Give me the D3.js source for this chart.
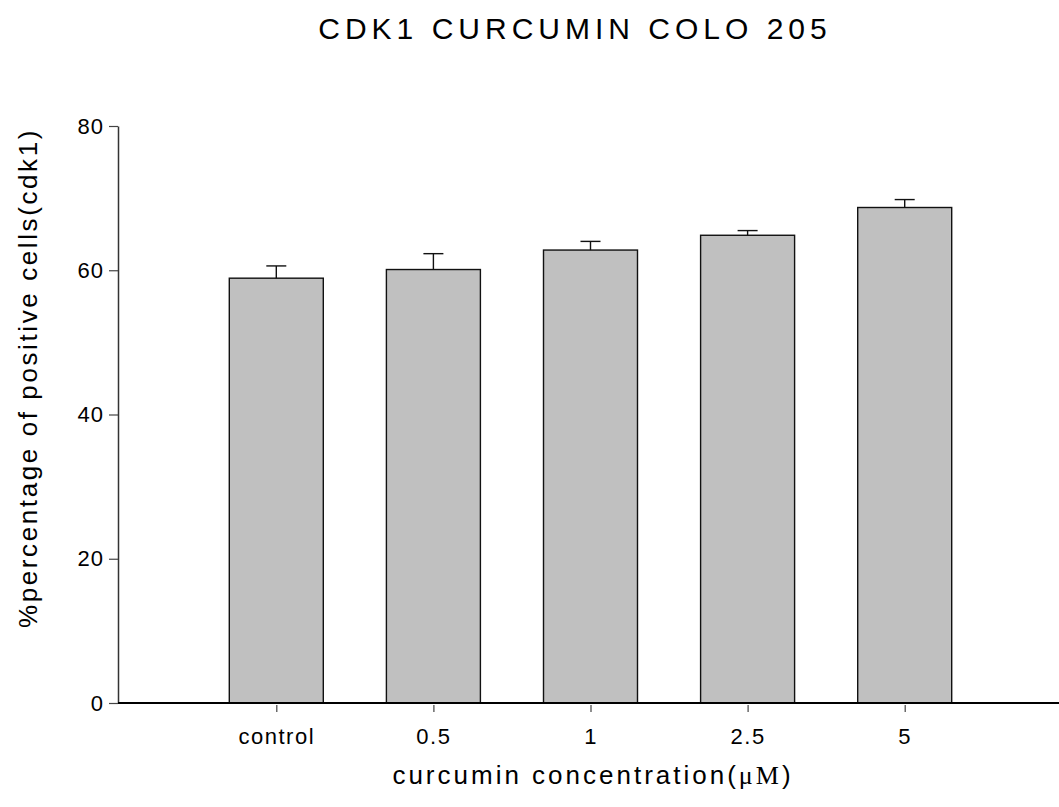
<!DOCTYPE html>
<html>
<head>
<meta charset="utf-8">
<script src="https://cdn.jsdelivr.net/npm/d3@7"></script>
<style>
  html, body { margin: 0; padding: 0; background: #fff; }
  svg { display: block; font-family: "Liberation Sans", Arial, sans-serif; }
</style>
</head>
<body>
<svg id="chart" width="1059" height="807"></svg>
<script>
// CDK1-positive cells (%) in COLO 205 after curcumin treatment
const categories = ["control", "0.5", "1", "2.5", "5"];
const means = [58.9, 60.1, 62.8, 64.85, 68.7];
const errors = [1.7, 2.2, 1.2, 0.65, 1.1];
const yTicks = [0, 20, 40, 60, 80];

const svg = d3.select("#chart");

const x = d3.scalePoint().domain(categories).range([119.2, 1061.8]).padding(1);
const y = d3.scaleLinear().domain([0, 80]).range([703, 126]);
const barWidth = 94;
const capWidth = 20;

// title
svg.append("text")
  .attr("x", 575).attr("y", 39)
  .attr("text-anchor", "middle")
  .attr("font-size", 30).attr("letter-spacing", 5)
  .text("CDK1 CURCUMIN COLO 205");

// bars
svg.append("g").selectAll("rect")
  .data(categories)
  .join("rect")
  .attr("x", d => x(d) - barWidth / 2)
  .attr("width", barWidth)
  .attr("y", (d, i) => y(means[i]))
  .attr("height", (d, i) => y(0) - y(means[i]))
  .attr("fill", "#c0c0c0")
  .attr("stroke", "#111")
  .attr("stroke-width", 1.4);

// upper error bars
const eb = svg.append("g").attr("stroke", "#111").attr("stroke-width", 1.4);
categories.forEach((c, i) => {
  const cx = x(c);
  eb.append("line").attr("x1", cx).attr("x2", cx)
    .attr("y1", y(means[i])).attr("y2", y(means[i] + errors[i]));
  eb.append("line").attr("x1", cx - capWidth / 2).attr("x2", cx + capWidth / 2)
    .attr("y1", y(means[i] + errors[i])).attr("y2", y(means[i] + errors[i]));
});

// y axis
const yAxis = d3.axisLeft(y).tickValues(yTicks).tickSize(9).tickPadding(5).tickSizeOuter(0);
const gy = svg.append("g").attr("transform", "translate(118,0)").call(yAxis);
gy.select(".domain").attr("stroke", "#333").attr("stroke-width", 1.5);
gy.selectAll(".tick line").attr("stroke", "#444").attr("stroke-width", 1.2);
gy.selectAll(".tick text")
  .attr("font-size", 22).attr("letter-spacing", 1)
  .attr("font-family", "Liberation Sans, Arial, sans-serif")
  .attr("fill", "#000");

// x axis
const xAxis = d3.axisBottom(x).tickSize(0).tickPadding(0);
const gx = svg.append("g").attr("transform", "translate(0,703)").call(xAxis);
gx.select(".domain").attr("d", "M118,0H1059").attr("stroke", "#000").attr("stroke-width", 2);
gx.selectAll(".tick").append("line")
  .attr("y1", 2).attr("y2", 9).attr("stroke", "#444").attr("stroke-width", 1.2);
gx.selectAll(".tick text")
  .attr("y", 41).attr("dy", null)
  .attr("font-size", 22).attr("letter-spacing", 1.5)
  .attr("font-family", "Liberation Sans, Arial, sans-serif")
  .attr("fill", "#000");

// x axis title
const xt = svg.append("text")
  .attr("x", 593).attr("y", 784)
  .attr("text-anchor", "middle")
  .attr("font-size", 26).attr("letter-spacing", 3);
xt.append("tspan").text("curcumin concentration(");
xt.append("tspan").attr("font-family", "Liberation Serif, Times New Roman, serif").text("μM");
xt.append("tspan").text(")");

// y axis title
svg.append("text")
  .attr("transform", "translate(37,378) rotate(-90)")
  .attr("text-anchor", "middle")
  .attr("font-size", 26).attr("letter-spacing", 2.6)
  .text("%percentage of positive cells(cdk1)");
</script>
</body>
</html>
